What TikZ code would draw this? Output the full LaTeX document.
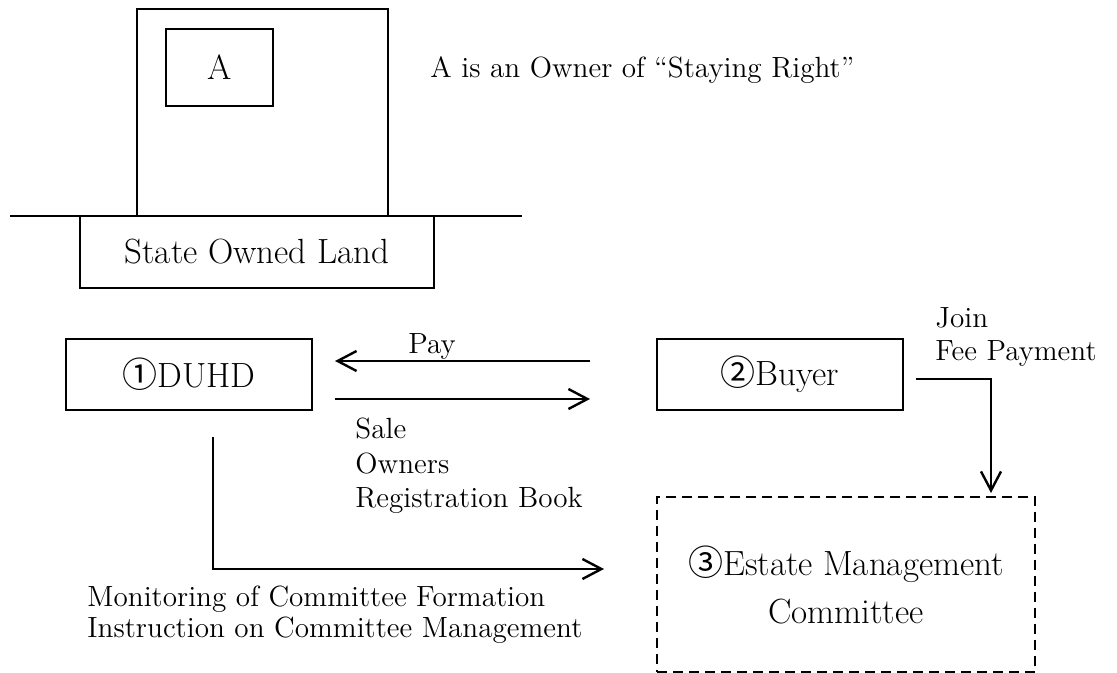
\documentclass[tikz,border=0pt]{standalone}
\usepackage{fontspec}
\newfontfamily\cjk{Noto Sans CJK JP}
\usetikzlibrary{arrows.meta}
\newcommand{\circnum}[1]{{\cjk #1}}

\begin{document}
\begin{tikzpicture}[x=0.5pt,y=-0.5pt,
  box/.style={draw,line width=1pt,inner sep=0pt,
    minimum width=123pt,minimum height=35.5pt,
    font=\fontsize{17.5}{21}\selectfont},
  dashbox/.style={box,dash pattern=on 5pt off 3pt},
  lbl/.style={inner sep=0pt,font=\fontsize{14.6}{17}\selectfont},
  flow/.style={line width=1.2pt,-{Straight Barb[length=9.5pt,width=10pt]}}]

\useasboundingbox (0,0) rectangle (1117,673);

% building on the state owned land
\node[box,minimum width=125.5pt,minimum height=103.5pt] (house) at (262.5,112.5) {};
\node[box,minimum width=53.5pt,minimum height=38.5pt] (owner) at (219.5,67.5) {A};
\node[box,minimum width=177pt,minimum height=36pt] (land) at (257,252) {State Owned Land};
\coordinate (gl) at (10,216);
\coordinate (gr) at (522,216);
\draw[line width=1.2pt] (gl) -- (gr);

\node[lbl,anchor=base west] (owntxt) at (430,78) {A is an Owner of “Staying Right”};

% parties
\node[box] (duhd) at (189,374.5) {\circnum{①}DUHD};
\node[box] (buyer) at (780,374.5) {\circnum{②}Buyer};
\node[dashbox,minimum width=189pt,minimum height=87.5pt,align=center,
  font=\fontsize{17.5}{24}\selectfont] (emc) at (846,584.5)
  {\circnum{③}Estate Management\\Committee};

% flows between the parties
\draw[flow] ([xshift=-33pt,yshift=6.75pt]buyer.west) -- ([xshift=11pt,yshift=6.75pt]duhd.east);
\draw[flow] ([xshift=11pt,yshift=-12.25pt]duhd.east) -- ([xshift=-33pt,yshift=-12.25pt]buyer.west);
\draw[flow] ([xshift=12pt,yshift=-13pt]duhd.south) |- ([xshift=-26pt,yshift=7.75pt]emc.west);
\draw[flow] ([xshift=6pt,yshift=-2.25pt]buyer.east) -| ([xshift=72.5pt,yshift=1.5pt]emc.north);

% flow labels
\node[lbl,anchor=base west] (paytxt) at (408,353) {Pay};
\node[lbl,anchor=north west,align=left,font=\fontsize{14.6}{17.25}\selectfont]
  (saletxt) at (355,418) {Sale\\Owners\\Registration Book};
\node[lbl,anchor=north west,align=left,font=\fontsize{14.6}{16.5}\selectfont]
  (jointxt) at (935,307) {Join\\Fee Payment};
\node[lbl,anchor=north west,align=left,font=\fontsize{14.6}{15.5}\selectfont]
  (montxt) at (87,586) {Monitoring of Committee Formation\\Instruction on Committee Management};
\end{tikzpicture}
\end{document}
